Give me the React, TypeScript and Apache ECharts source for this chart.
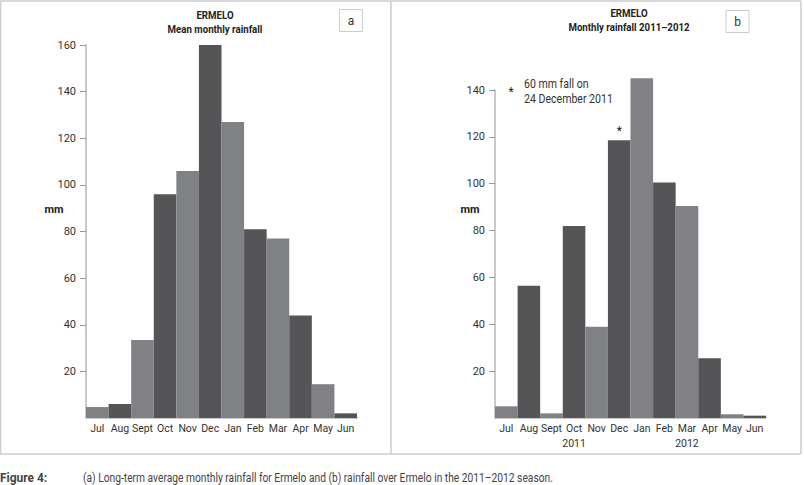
import React, { useEffect, useRef } from "react";
import * as echarts from "echarts";

const months = ["Jul", "Aug", "Sept", "Oct", "Nov", "Dec", "Jan", "Feb", "Mar", "Apr", "May", "Jun"];
const meanRainfall = [4.7, 6, 33.5, 96, 106, 160, 127, 81, 77, 44, 14.5, 2];
const rainfall2011_12 = [5, 56.5, 2, 82, 39, 118.5, 145, 100.5, 90.5, 25.5, 1.6, 1];
const seasonYears = ["", "", "", "2011", "", "", "", "", "2012", "", "", ""];
const leftTicks = [20, 40, 60, 80, 100, 120, 140, 160];
const rightTicks = [20, 40, 60, 80, 100, 120, 140];
const starMonth = "Dec";

const DARK = "#555558";
const LIGHT = "#808185";
const FONT = "Roboto, 'Liberation Sans', sans-serif";
const FRAME = "#cccccc";

function barData(values: number[], starAt?: string) {
  return values.map((v, i) => {
    const item: any = {
      value: v,
      itemStyle: { color: i % 2 === 0 ? LIGHT : DARK },
    };
    if (starAt && months[i] === starAt) {
      item.label = {
        show: true,
        position: "top",
        formatter: "*",
        distance: 3,
        fontSize: 12,
        color: "#222",
        fontFamily: FONT,
      };
    }
    return item;
  });
}

function yAxis(gridIndex: number, ticks: number[]) {
  return {
    type: "value",
    gridIndex,
    min: 0,
    max: ticks[ticks.length - 1],
    interval: 20,
    splitLine: { show: false },
    axisLine: { show: true, lineStyle: { color: "#c9c9c9", width: 2 } },
    axisTick: { show: true, length: 6, customValues: ticks, lineStyle: { color: "#999", width: 1 } },
    axisLabel: {
      customValues: ticks,
      margin: 10,
      fontSize: 11,
      color: "#333",
      fontFamily: FONT,
    },
  };
}

function xAxis(gridIndex: number, withYears: boolean) {
  return {
    type: "category",
    gridIndex,
    data: months,
    axisLine: { show: true, lineStyle: { color: "#c9c9c9", width: 2 } },
    axisTick: { show: false },
    axisLabel: {
      interval: 0,
      margin: 3,
      fontSize: 10.5,
      lineHeight: 15,
      color: "#333",
      fontFamily: FONT,
      formatter: (v: string, i: number) =>
        withYears && seasonYears[i] ? v + "\n" + seasonYears[i] : v,
    },
  };
}

export default function App() {
  const ref = useRef<HTMLDivElement>(null);
  useEffect(() => {
    const chart = echarts.init(ref.current!, null, { renderer: "svg" });
    const txt = (x: number, y: number, text: string, opts: any = {}) => ({
      type: "text",
      x,
      y,
      scaleX: opts.sx || 1,
      style: {
        text,
        fontFamily: FONT,
        fontSize: opts.fontSize || 12,
        fontWeight: opts.bold ? "bold" : "normal",
        fill: opts.color || "#333",
        textAlign: opts.align || "left",
        textVerticalAlign: "middle",
      },
    });
    chart.setOption({
      animation: false,
      grid: [
        { left: 86, top: 45, width: 271, height: 373 },
        { left: 495, top: 90, width: 271, height: 328 },
      ],
      xAxis: [xAxis(0, false), xAxis(1, true)],
      yAxis: [yAxis(0, leftTicks), yAxis(1, rightTicks)],
      series: [
        {
          type: "bar",
          xAxisIndex: 0,
          yAxisIndex: 0,
          barCategoryGap: "0%",
          clip: false,
          data: barData(meanRainfall),
        },
        {
          type: "bar",
          xAxisIndex: 1,
          yAxisIndex: 1,
          barCategoryGap: "0%",
          clip: false,
          data: barData(rainfall2011_12, starMonth),
        },
      ],
      graphic: [
        { type: "line", shape: { x1: 0, y1: 1, x2: 801, y2: 1 }, style: { stroke: FRAME, lineWidth: 1.5 } },
        { type: "line", shape: { x1: 0, y1: 454, x2: 801, y2: 454 }, style: { stroke: FRAME, lineWidth: 1.5 } },
        { type: "line", shape: { x1: 0.5, y1: 1, x2: 0.5, y2: 454 }, style: { stroke: FRAME, lineWidth: 1.5 } },
        { type: "line", shape: { x1: 391, y1: 1, x2: 391, y2: 454 }, style: { stroke: FRAME, lineWidth: 1.5 } },
        { type: "line", shape: { x1: 801, y1: 1, x2: 801, y2: 454 }, style: { stroke: FRAME, lineWidth: 1.5 } },
        { type: "rect", shape: { x: 339.5, y: 9.5, width: 23, height: 22 }, style: { stroke: FRAME, fill: "none", lineWidth: 1 } },
        { type: "rect", shape: { x: 726, y: 10.5, width: 23, height: 22 }, style: { stroke: FRAME, fill: "none", lineWidth: 1 } },
        txt(351, 20.5, "a", { align: "center" }),
        txt(737.5, 21.5, "b", { align: "center" }),
        txt(215, 15, "ERMELO", { bold: true, fontSize: 11, align: "center", color: "#222", sx: 0.88 }),
        txt(215, 29.5, "Mean monthly rainfall", { bold: true, fontSize: 11, align: "center", color: "#222", sx: 0.88 }),
        txt(629, 13.5, "ERMELO", { bold: true, fontSize: 11, align: "center", color: "#222", sx: 0.88 }),
        txt(629, 27.5, "Monthly rainfall 2011\u20132012", { bold: true, fontSize: 11, align: "center", color: "#222", sx: 0.88 }),
        txt(54, 209, "mm", { bold: true, fontSize: 11, align: "center", color: "#222" }),
        txt(470, 209, "mm", { bold: true, fontSize: 11, align: "center", color: "#222" }),
        txt(511, 92, "*", { align: "center", color: "#222" }),
        txt(524, 84, "60 mm fall on", { sx: 0.88 }),
        txt(524, 99, "24 December 2011", { sx: 0.88 }),
        txt(0, 477.5, "Figure 4:", { bold: true, fontSize: 13, color: "#444", sx: 0.92 }),
        txt(83, 477.5, "(a) Long-term average monthly rainfall for Ermelo and (b) rainfall over Ermelo in the 2011\u20132012 season.", { fontSize: 12.5, color: "#444", sx: 0.82 }),
      ],
    });
    return () => chart.dispose();
  }, []);
  return (
    <div
      ref={ref}
      style={{ position: "absolute", left: 0, top: 0, width: 804, height: 485, background: "#fff" }}
    />
  );
}
